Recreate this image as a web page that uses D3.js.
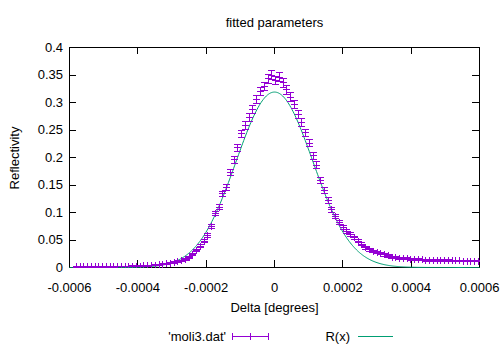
<!DOCTYPE html>
<html>
<head>
<meta charset="utf-8">
<script src="https://cdn.jsdelivr.net/npm/d3@7"></script>
<style>
  body { margin: 0; background: #fff; }
  svg { display: block; }
  text { font-family: "Liberation Sans", Arial, sans-serif; font-size: 13px; fill: #000; }
</style>
</head>
<body>
<svg id="chart" width="500" height="350"></svg>
<script>
// Measured rocking curve: angle offset, reflectivity and its uncertainty
const deltas = [
  -0.000580, -0.000569, -0.000558, -0.000547, -0.000536, -0.000525, -0.000514, -0.000503,
  -0.000492, -0.000481, -0.000470, -0.000459, -0.000448, -0.000437, -0.000426, -0.000415,
  -0.000404, -0.000393, -0.000382, -0.000371, -0.000360, -0.000349, -0.000338, -0.000327,
  -0.000316, -0.000305, -0.000294, -0.000283, -0.000272, -0.000261, -0.000250, -0.000239,
  -0.000228, -0.000217, -0.000206, -0.000195, -0.000184, -0.000173, -0.000162, -0.000151,
  -0.000140, -0.000129, -0.000118, -0.000107, -0.000096, -0.000085, -0.000074, -0.000063,
  -0.000052, -0.000041, -0.000030, -0.000019, -0.000008, 0.000003, 0.000014, 0.000025,
  0.000036, 0.000047, 0.000058, 0.000069, 0.000080, 0.000091, 0.000102, 0.000113,
  0.000124, 0.000135, 0.000146, 0.000157, 0.000168, 0.000179, 0.000190, 0.000201,
  0.000212, 0.000223, 0.000234, 0.000245, 0.000256, 0.000267, 0.000278, 0.000289,
  0.000300, 0.000311, 0.000322, 0.000333, 0.000344, 0.000355, 0.000366, 0.000377,
  0.000388, 0.000399, 0.000410, 0.000421, 0.000432, 0.000443, 0.000454, 0.000465,
  0.000476, 0.000487, 0.000498, 0.000509, 0.000520, 0.000531, 0.000542, 0.000553,
  0.000564, 0.000575, 0.000586, 0.000597
];
const reflectivity = [
  0.0010, 0.0010, 0.0010, 0.0010, 0.0012, 0.0012, 0.0011, 0.0013,
  0.0012, 0.0014, 0.0013, 0.0015, 0.0016, 0.0018, 0.0020, 0.0022,
  0.0024, 0.0027, 0.0030, 0.0033, 0.0037, 0.0042, 0.0048, 0.0056,
  0.0066, 0.0078, 0.0090, 0.0105, 0.0120, 0.0150, 0.0180, 0.0240,
  0.0310, 0.0390, 0.0480, 0.0580, 0.0750, 0.0980, 0.1100, 0.1340,
  0.1450, 0.1720, 0.1960, 0.2180, 0.2430, 0.2580, 0.2720, 0.2880,
  0.3060, 0.3200, 0.3290, 0.3430, 0.3500, 0.3400, 0.3460, 0.3360,
  0.3230, 0.3100, 0.2960, 0.2780, 0.2640, 0.2450, 0.2260, 0.2030,
  0.1860, 0.1580, 0.1400, 0.1220, 0.1050, 0.0930, 0.0820, 0.0730,
  0.0660, 0.0600, 0.0540, 0.0480, 0.0420, 0.0360, 0.0320, 0.0290,
  0.0270, 0.0250, 0.0230, 0.0210, 0.0190, 0.0180, 0.0170, 0.0160,
  0.0156, 0.0150, 0.0146, 0.0142, 0.0138, 0.0133, 0.0130, 0.0128,
  0.0126, 0.0124, 0.0123, 0.0122, 0.0120, 0.0120, 0.0119, 0.0118,
  0.0118, 0.0117, 0.0117, 0.0116
];
const uncertainty = [
  0.0004, 0.0004, 0.0004, 0.0004, 0.0005, 0.0005, 0.0005, 0.0005,
  0.0005, 0.0005, 0.0005, 0.0005, 0.0005, 0.0006, 0.0006, 0.0006,
  0.0007, 0.0007, 0.0007, 0.0008, 0.0008, 0.0009, 0.0009, 0.0010,
  0.0011, 0.0012, 0.0013, 0.0014, 0.0015, 0.0017, 0.0018, 0.0021,
  0.0024, 0.0027, 0.0030, 0.0033, 0.0037, 0.0043, 0.0045, 0.0050,
  0.0052, 0.0056, 0.0060, 0.0064, 0.0067, 0.0069, 0.0071, 0.0073,
  0.0075, 0.0077, 0.0078, 0.0080, 0.0080, 0.0079, 0.0080, 0.0079,
  0.0077, 0.0076, 0.0074, 0.0072, 0.0070, 0.0067, 0.0065, 0.0061,
  0.0059, 0.0054, 0.0051, 0.0048, 0.0044, 0.0041, 0.0039, 0.0037,
  0.0035, 0.0033, 0.0032, 0.0030, 0.0028, 0.0026, 0.0024, 0.0023,
  0.0022, 0.0021, 0.0021, 0.0020, 0.0019, 0.0018, 0.0018, 0.0017,
  0.0017, 0.0017, 0.0016, 0.0016, 0.0016, 0.0016, 0.0016, 0.0015,
  0.0015, 0.0015, 0.0015, 0.0015, 0.0015, 0.0015, 0.0015, 0.0015,
  0.0015, 0.0015, 0.0015, 0.0015
];

// Fitted Gaussian R(x)
const fitAmplitude = 0.319;
const fitCenter = 0;
const fitSigma = 1.12e-4;

const xTickValues = [-0.0006, -0.0004, -0.0002, 0, 0.0002, 0.0004, 0.0006];
const xTickLabels = ["-0.0006", "-0.0004", "-0.0002", "0", "0.0002", "0.0004", "0.0006"];
const yTickValues = [0, 0.05, 0.1, 0.15, 0.2, 0.25, 0.3, 0.35, 0.4];
const yTickLabels = ["0", "0.05", "0.1", "0.15", "0.2", "0.25", "0.3", "0.35", "0.4"];

const dataColor = "#9400d3";
const fitColor = "#009e73";

const svg = d3.select("#chart");
const plotLeft = 69, plotRight = 479, plotTop = 47, plotBottom = 267;

const x = d3.scaleLinear().domain([-0.0006, 0.0006]).range([plotLeft, plotRight]);
const y = d3.scaleLinear().domain([0, 0.4]).range([plotBottom, plotTop]);

// Title and axis titles
svg.append("text").attr("x", 274.5).attr("y", 22).attr("text-anchor", "middle")
  .attr("dominant-baseline", "central").text("fitted parameters");
svg.append("text").attr("x", 274.5).attr("y", 307).attr("text-anchor", "middle")
  .attr("dominant-baseline", "central").text("Delta [degrees]");
svg.append("text").attr("transform", "translate(14,158) rotate(-90)")
  .attr("text-anchor", "middle").attr("dominant-baseline", "central").text("Reflectivity");

// Axes with inward ticks on all four sides
const tickLen = 7;
function styleAxis(g) {
  g.select(".domain").remove();
  g.selectAll(".tick line").attr("stroke", "#000").attr("shape-rendering", "crispEdges");
  g.selectAll(".tick text").attr("font-size", 13)
    .attr("font-family", '"Liberation Sans", Arial, sans-serif').attr("fill", "#000");
}
svg.append("g").attr("transform", `translate(0,${plotBottom})`)
  .call(d3.axisBottom(x).tickValues(xTickValues).tickSize(-tickLen).tickPadding(tickLen + 9)
    .tickFormat((d, i) => xTickLabels[i]))
  .call(styleAxis);
svg.append("g").attr("transform", `translate(0,${plotTop})`)
  .call(d3.axisTop(x).tickValues(xTickValues).tickSize(-tickLen).tickFormat(""))
  .call(styleAxis);
svg.append("g").attr("transform", `translate(${plotLeft},0)`)
  .call(d3.axisLeft(y).tickValues(yTickValues).tickSize(-tickLen).tickPadding(6)
    .tickFormat((d, i) => yTickLabels[i]))
  .call(styleAxis);
svg.append("g").attr("transform", `translate(${plotRight},0)`)
  .call(d3.axisRight(y).tickValues(yTickValues).tickSize(-tickLen).tickFormat(""))
  .call(styleAxis);

svg.append("rect").attr("x", plotLeft + 0.5).attr("y", plotTop + 0.5)
  .attr("width", plotRight - plotLeft).attr("height", plotBottom - plotTop)
  .attr("fill", "none").attr("stroke", "#000").attr("shape-rendering", "crispEdges");

// Clip for plotted series
svg.append("clipPath").attr("id", "plotArea").append("rect")
  .attr("x", plotLeft).attr("y", plotTop)
  .attr("width", plotRight - plotLeft + 1).attr("height", plotBottom - plotTop + 1);

// Fitted curve
const fitFn = t => fitAmplitude * Math.exp(-((t - fitCenter) ** 2) / (2 * fitSigma * fitSigma));
const fitX = d3.range(-0.0006, 0.0006 + 1e-9, 0.0012 / 400);
svg.append("path")
  .attr("clip-path", "url(#plotArea)")
  .attr("d", d3.line().x(t => x(t) + 0.5).y(t => y(fitFn(t)) + 0.5)(fitX))
  .attr("fill", "none").attr("stroke", fitColor).attr("stroke-width", 1);

// Data points with vertical error bars
const half = 3.5;
const points = deltas.map((d, i) => ({ dx: d, r: reflectivity[i], e: uncertainty[i] }));
function barPath(p) {
  const cx = Math.round(x(p.dx)) + 0.5;
  const cy = Math.round(y(p.r)) + 0.5;
  const y1 = Math.round(y(p.r + p.e)) + 0.5;
  const y2 = Math.round(y(p.r - p.e)) + 0.5;
  return `M${cx},${y1}V${y2}` +
    `M${cx - half},${y1}H${cx + half}M${cx - half},${y2}H${cx + half}` +
    `M${cx - half},${cy}H${cx + half}M${cx},${cy - half}V${cy + half}`;
}
svg.append("g").attr("clip-path", "url(#plotArea)")
  .selectAll("path").data(points).join("path")
  .attr("d", barPath)
  .attr("fill", "none").attr("stroke", dataColor).attr("stroke-width", 1)
  .attr("shape-rendering", "crispEdges");

// Legend
const legY = 336.5;
svg.append("text").attr("x", 226).attr("y", legY).attr("text-anchor", "end")
  .attr("dominant-baseline", "central").text("'moli3.dat'");
svg.append("path")
  .attr("d", `M232.5,${legY}H268.5M232.5,${legY - 3.5}V${legY + 3.5}M250.5,${legY - 3.5}V${legY + 3.5}M268.5,${legY - 3.5}V${legY + 3.5}`)
  .attr("fill", "none").attr("stroke", dataColor).attr("shape-rendering", "crispEdges");
svg.append("text").attr("x", 350).attr("y", legY).attr("text-anchor", "end")
  .attr("dominant-baseline", "central").text("R(x)");
svg.append("path").attr("d", `M358,${legY}H393`)
  .attr("fill", "none").attr("stroke", fitColor).attr("shape-rendering", "crispEdges");
</script>
</body>
</html>
